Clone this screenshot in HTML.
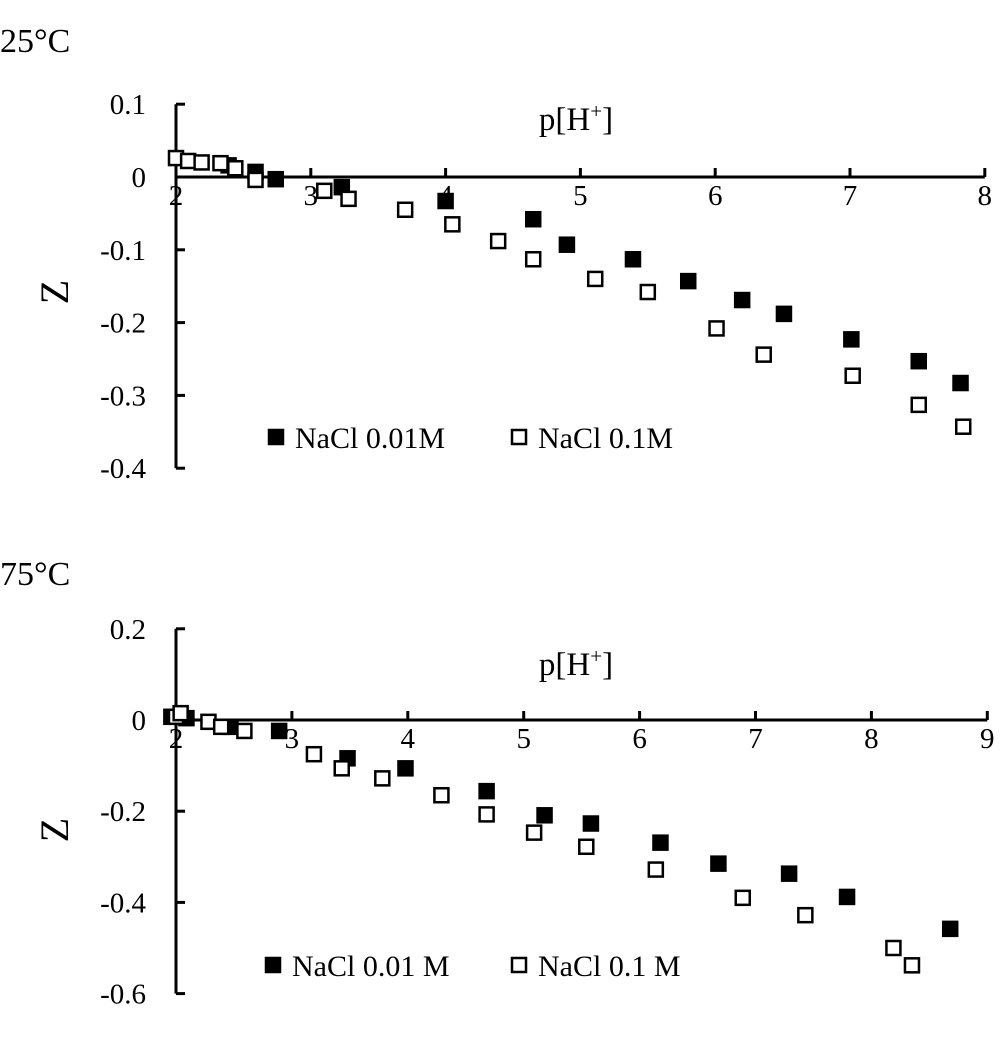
<!DOCTYPE html>
<html><head><meta charset="utf-8"><style>
body{margin:0;background:#fff;}
svg text{font-family:"Liberation Serif",serif;fill:#000;}
</style></head><body>
<svg id="s" width="1004" height="1033" xmlns="http://www.w3.org/2000/svg"></svg>
<script>
const top_filled_x=[2.39,2.59,2.74,3.23,4.00,4.65,4.90,5.39,5.80,6.20,6.51,7.01,7.51,7.82];
const top_filled_y=[0.016,0.007,-0.003,-0.014,-0.033,-0.058,-0.093,-0.113,-0.143,-0.169,-0.188,-0.223,-0.253,-0.283];
const top_open_x=[2.0,2.09,2.19,2.33,2.44,2.59,3.10,3.28,3.70,4.05,4.39,4.65,5.11,5.50,6.01,6.36,7.02,7.51,7.84];
const top_open_y=[0.026,0.022,0.020,0.019,0.012,-0.004,-0.019,-0.030,-0.045,-0.065,-0.088,-0.113,-0.140,-0.158,-0.208,-0.244,-0.273,-0.313,-0.343];
const bot_filled_x=[1.96,2.09,2.47,2.89,3.48,3.98,4.68,5.18,5.58,6.18,6.68,7.29,7.79,8.68];
const bot_filled_y=[0.007,0.004,-0.015,-0.024,-0.084,-0.106,-0.156,-0.209,-0.227,-0.269,-0.315,-0.337,-0.388,-0.458];
const bot_open_x=[2.0,2.04,2.28,2.39,2.59,3.19,3.43,3.78,4.29,4.68,5.09,5.54,6.14,6.89,7.43,8.19,8.35];
const bot_open_y=[0.007,0.015,-0.004,-0.015,-0.024,-0.075,-0.106,-0.128,-0.165,-0.207,-0.247,-0.278,-0.328,-0.39,-0.428,-0.50,-0.538];
const top_xticks=[2,3,4,5,6,7,8];
const top_yticks=[0.1,0,-0.1,-0.2,-0.3,-0.4];
const top_ylabels=["0.1","0","-0.1","-0.2","-0.3","-0.4"];
const bot_xticks=[2,3,4,5,6,7,8,9];
const bot_yticks=[0.2,0,-0.2,-0.4,-0.6];
const bot_ylabels=["0.2","0","-0.2","-0.4","-0.6"];

const svg=document.getElementById('s');
const NS='http://www.w3.org/2000/svg';
function mk(tag,attrs,parent){const e=document.createElementNS(NS,tag);for(const k in attrs)e.setAttribute(k,attrs[k]);(parent||svg).appendChild(e);return e;}
function txt(x,y,s,size,anchor,parent){const t=mk('text',{x:x,y:y,'font-size':size,'text-anchor':anchor||'start'},parent);t.textContent=s;return t;}

function panel(cfg){
  const g=mk('g',{});
  
  
  const X=v=>cfg.x0+(v-cfg.xmin)*cfg.xs;
  const Y=v=>cfg.y0-v*cfg.ys;
  const t=txt(0,cfg.titleY,cfg.title,34,'start',g);
  
  
  const ya=mk('line',{x1:X(cfg.xmin),x2:X(cfg.xmin),y1:Y(cfg.ymax),y2:Y(cfg.ymin),stroke:'#000','stroke-width':3},g);
  
  
  cfg.yt.forEach((v,i)=>{
    mk('line',{x1:X(cfg.xmin),x2:X(cfg.xmin)+9,y1:Y(v),y2:Y(v),stroke:'#000','stroke-width':3},g);
    const l=txt(X(cfg.xmin)-30,Y(v)+10,cfg.yl[i],29,'end',g);
    
    
  });
  const xa=mk('line',{x1:X(cfg.xmin),x2:X(cfg.xmax),y1:Y(0),y2:Y(0),stroke:'#000','stroke-width':3},g);
  
  
  cfg.xt.forEach(v=>{
    mk('line',{x1:X(v),x2:X(v),y1:Y(0),y2:Y(0)-9,stroke:'#000','stroke-width':3},g);
    const l=txt(X(v),Y(0)+28,String(v),29,'middle',g);
    
    
  });
  const xt=txt(cfg.xlabX,cfg.xlabY,'',33,'middle',g);
  xt.innerHTML='p[H<tspan baseline-shift="super" font-size="21">+</tspan>]';
  
  
  const yt=txt(0,0,'Z',40,'middle',g);
  yt.setAttribute('transform','translate(68,'+cfg.zY+') rotate(-90)');
  
  
  function pts(xs,ys,filled,nm){
    xs.forEach((v,i)=>{
      const r=mk('rect',{x:X(v)-7,y:Y(ys[i])-7,width:14,height:14,fill:filled?'#000':'#fff',stroke:'#000','stroke-width':2.5},g);
      
      
    });
  }
  pts(cfg.fx,cfg.fy,true,'point-nacl-0.01m');
  pts(cfg.ox,cfg.oy,false,'point-nacl-0.1m');
  const lg=mk('g',{},g);
  
  
  mk('rect',{x:cfg.legX,y:cfg.legY-7,width:14,height:14,fill:'#000',stroke:'#000','stroke-width':2.5},lg);
  txt(cfg.legX+26,cfg.legY+11,cfg.leg1,30,'start',lg);
  mk('rect',{x:cfg.legX2,y:cfg.legY-7,width:14,height:14,fill:'#fff',stroke:'#000','stroke-width':2.5},lg);
  txt(cfg.legX2+26,cfg.legY+11,cfg.leg2,30,'start',lg);
}
panel({name:'panel-25c',title:'25°C',titleY:52,x0:176,xmin:2,xmax:8,xs:134.8,y0:177,ys:728,ymax:0.1,ymin:-0.4,
  xt:top_xticks,yt:top_yticks,yl:top_ylabels,fx:top_filled_x,fy:top_filled_y,ox:top_open_x,oy:top_open_y,
  xlabX:576,xlabY:130,zY:292,legX:269,legX2:512,legY:437,leg1:'NaCl 0.01M',leg2:'NaCl 0.1M'});
panel({name:'panel-75c',title:'75°C',titleY:585,x0:176,xmin:2,xmax:9,xs:115.9,y0:720,ys:456,ymax:0.2,ymin:-0.6,
  xt:bot_xticks,yt:bot_yticks,yl:bot_ylabels,fx:bot_filled_x,fy:bot_filled_y,ox:bot_open_x,oy:bot_open_y,
  xlabX:576,xlabY:675,zY:830,legX:266,legX2:512,legY:965,leg1:'NaCl 0.01 M',leg2:'NaCl 0.1 M'});
</script>
</body></html>
